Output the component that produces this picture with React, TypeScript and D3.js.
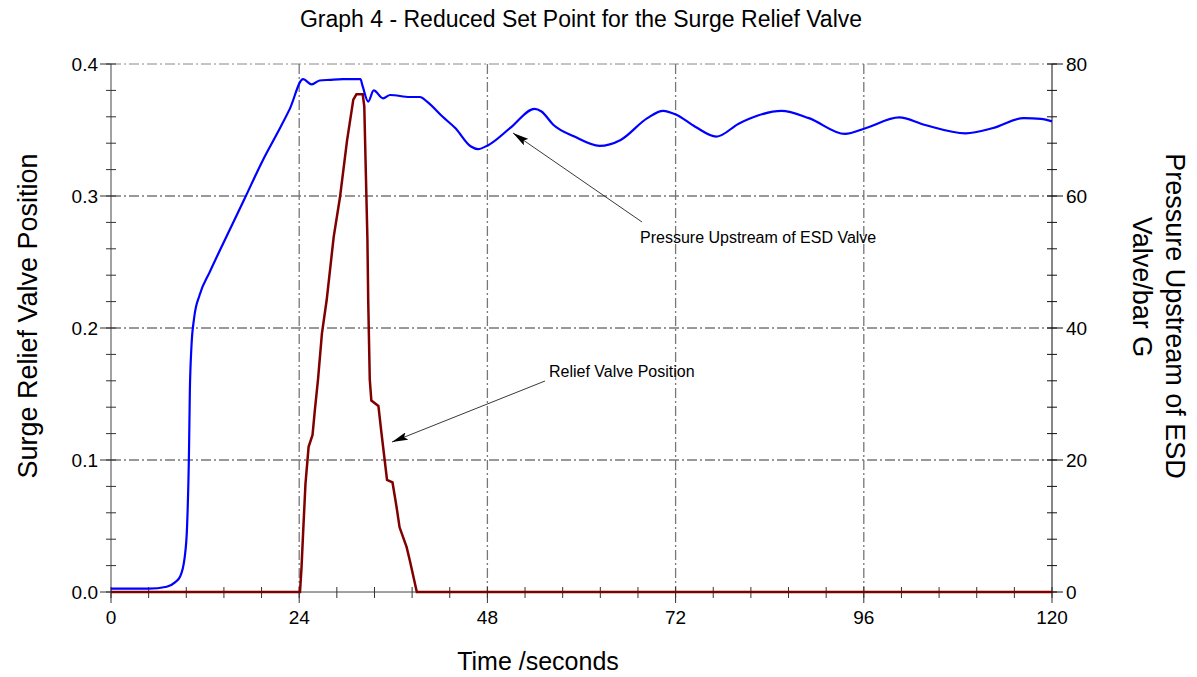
import React from "react";
import * as d3 from "d3";

// pressure upstream of ESD valve (bar G, right axis)
const pressureTime = [
  0, 4.8, 7.1, 8.2, 8.8, 9.4, 9.7, 9.95, 10.05, 10.25, 10.6, 11.3, 12.6, 14.5, 17,
  19.4, 21.2, 22.8, 24.5, 25.6, 26.6, 27.9, 29.6, 31.8, 32.1, 32.8, 33.5, 34.7,
  35.6, 38.1, 39.4, 40.3, 42.3, 43.9, 45.9, 46.8, 48.1, 51, 54, 54.9, 56.4, 59.1,
  62.3, 65, 68.4, 70.4, 72.1, 74.5, 77.2, 80.1, 82.5, 85.5, 89, 93.6, 96.3, 100.5,
  103.7, 109, 112.5, 116.4, 118.6, 120,
];
const pressureValue = [
  0.5, 0.5, 0.8, 1.5, 2.3, 5.3, 9.9, 21.5, 30, 37, 41.5, 45, 48.5, 53.3, 59.5,
  65.5, 69.5, 73.2, 77.7, 76.9, 77.5, 77.6, 77.7, 77.7, 76.6, 74.3, 76, 74.8,
  75.3, 75.0, 75, 74.3, 72, 70.3, 67.5, 67.1, 67.7, 70.4, 73.2, 72.8, 70.8, 69.0,
  67.6, 68.5, 71.8, 72.9, 72.3, 70.5, 69, 71, 72.2, 72.9, 71.8, 69.4, 70.3, 71.9,
  70.8, 69.5, 70.3, 71.8, 71.7, 71.3,
];

// surge relief valve position (left axis)
const reliefTime = [
  0, 24.1, 24.3, 24.5, 24.8, 25.2, 25.7, 26.0, 26.4, 26.9, 27.5, 28.4, 29.2, 30.1,
  30.9, 31.3, 32.1, 32.3, 32.5, 32.7, 32.8, 33.0, 33.2, 34.1, 34.5, 34.9, 35.2,
  35.9, 36.4, 36.8, 37.7, 38.1, 39.0, 120,
];
const reliefValue = [
  0, 0, 0.019, 0.045, 0.082, 0.11, 0.119, 0.138, 0.161, 0.196, 0.221, 0.269, 0.299,
  0.342, 0.373, 0.377, 0.377, 0.368, 0.317, 0.267, 0.221, 0.161, 0.145, 0.141,
  0.12, 0.1, 0.085, 0.083, 0.065, 0.049, 0.034, 0.024, 0, 0,
];

const xTicks = [0, 24, 48, 72, 96, 120];
const leftTicks = [0, 0.1, 0.2, 0.3, 0.4];
const rightTicks = [0, 20, 40, 60, 80];

const W = 1197;
const H = 677;
const FONT = "'Liberation Sans', Arial, sans-serif";

export default function App() {
  const left = 111;
  const right = 1052;
  const top = 64;
  const bottom = 592;

  const x = d3.scaleLinear().domain([0, 120]).range([left, right]);
  const yL = d3.scaleLinear().domain([0, 0.4]).range([bottom, top]);
  const yR = d3.scaleLinear().domain([0, 80]).range([bottom, top]);

  const pressure = pressureTime.map((t, i) => [t, pressureValue[i]] as [number, number]);
  const relief = reliefTime.map((t, i) => [t, reliefValue[i]] as [number, number]);

  const pLine = d3
    .line<[number, number]>()
    .x((d) => x(d[0]))
    .y((d) => yR(d[1]))
    .curve(d3.curveMonotoneX);
  const rLine = d3
    .line<[number, number]>()
    .x((d) => x(d[0]))
    .y((d) => yL(d[1]));

  const xMinor = d3.range(0, 120.01, 4.8);
  const lMinor = d3.range(0, 0.4001, 0.02);
  const rMinor = d3.range(0, 80.01, 4);

  const dash = "10,3,2,3";

  return (
    <svg
      width={W}
      height={H}
      style={{ position: "absolute", left: 0, top: 0, background: "#fff" }}
      fontFamily={FONT}
    >
      <text x={581} y={27} textAnchor="middle" fontSize={23}>
        Graph 4 - Reduced Set Point for the Surge Relief Valve
      </text>

      {/* grid */}
      {leftTicks.slice(1).map((v) => (
        <line
          key={"h" + v}
          x1={left}
          x2={right}
          y1={yL(v)}
          y2={yL(v)}
          stroke={v === 0.4 ? "#888" : "#333"}
          strokeDasharray={dash}
        />
      ))}
      {xTicks.slice(1, -1).map((t) => (
        <line
          key={"v" + t}
          x1={x(t)}
          x2={x(t)}
          y1={top}
          y2={bottom}
          stroke="#777"
          strokeWidth={1.3}
          strokeDasharray={dash}
        />
      ))}

      {/* axes */}
      <line x1={left} x2={left} y1={top} y2={bottom} stroke="#444" />
      <line x1={right} x2={right} y1={top} y2={bottom} stroke="#111" />
      <line x1={left} x2={right} y1={bottom} y2={bottom} stroke="#444" />

      {xMinor.map((t) => (
        <line key={"xm" + t} x1={x(t)} x2={x(t)} y1={bottom - 5} y2={bottom + 6} stroke="#333" />
      ))}
      {xTicks.map((t) => (
        <g key={"xt" + t}>
          <line x1={x(t)} x2={x(t)} y1={bottom} y2={bottom + 11} stroke="#333" />
          <text x={x(t)} y={624} textAnchor="middle" fontSize={19}>
            {t}
          </text>
        </g>
      ))}

      {lMinor.map((v) => (
        <line key={"lm" + v} x1={left - 5} x2={left + 5} y1={yL(v)} y2={yL(v)} stroke="#333" />
      ))}
      {leftTicks.map((v) => (
        <g key={"lt" + v}>
          <line x1={left - 11} x2={left} y1={yL(v)} y2={yL(v)} stroke="#333" />
          <text x={98} y={yL(v) + 6.5} textAnchor="end" fontSize={19}>
            {v.toFixed(1)}
          </text>
        </g>
      ))}

      {rMinor.map((v) => (
        <line key={"rm" + v} x1={right - 5} x2={right + 5} y1={yR(v)} y2={yR(v)} stroke="#111" />
      ))}
      {rightTicks.map((v) => (
        <g key={"rt" + v}>
          <line x1={right} x2={right + 11} y1={yR(v)} y2={yR(v)} stroke="#111" />
          <text x={1066} y={yR(v) + 6.5} textAnchor="start" fontSize={19}>
            {v}
          </text>
        </g>
      ))}

      {/* series */}
      <path d={rLine(relief) ?? ""} fill="none" stroke="#800000" strokeWidth={2.5} />
      <path d={pLine(pressure) ?? ""} fill="none" stroke="#0000ff" strokeWidth={2.2} />

      {/* annotations */}
      <defs>
        <marker
          id="arr"
          viewBox="0 0 16 8"
          refX={16}
          refY={4}
          markerWidth={16}
          markerHeight={8}
          markerUnits="userSpaceOnUse"
          orient="auto"
        >
          <path d="M0,0 L16,4 L0,8 L3,4 Z" fill="#000" />
        </marker>
      </defs>
      <line x1={642} y1={222} x2={513} y2={133} stroke="#222" strokeWidth={0.9} markerEnd="url(#arr)" />
      <text x={640} y={243} fontSize={16}>
        Pressure Upstream of ESD Valve
      </text>
      <line x1={545} y1={381} x2={392} y2={442} stroke="#222" strokeWidth={0.9} markerEnd="url(#arr)" />
      <text x={549} y={377} fontSize={16}>
        Relief Valve Position
      </text>

      {/* axis titles */}
      <text x={538} y={670} textAnchor="middle" fontSize={25}>
        Time /seconds
      </text>
      <text
        transform={`translate(37,316) rotate(-90)`}
        textAnchor="middle"
        fontSize={27}
      >
        Surge Relief Valve Position
      </text>
      <text transform={`translate(1166,316) rotate(90)`} textAnchor="middle" fontSize={27}>
        Pressure Upstream of ESD
      </text>
      <text transform={`translate(1133,287) rotate(90)`} textAnchor="middle" fontSize={27}>
        Valve/bar G
      </text>
    </svg>
  );
}
